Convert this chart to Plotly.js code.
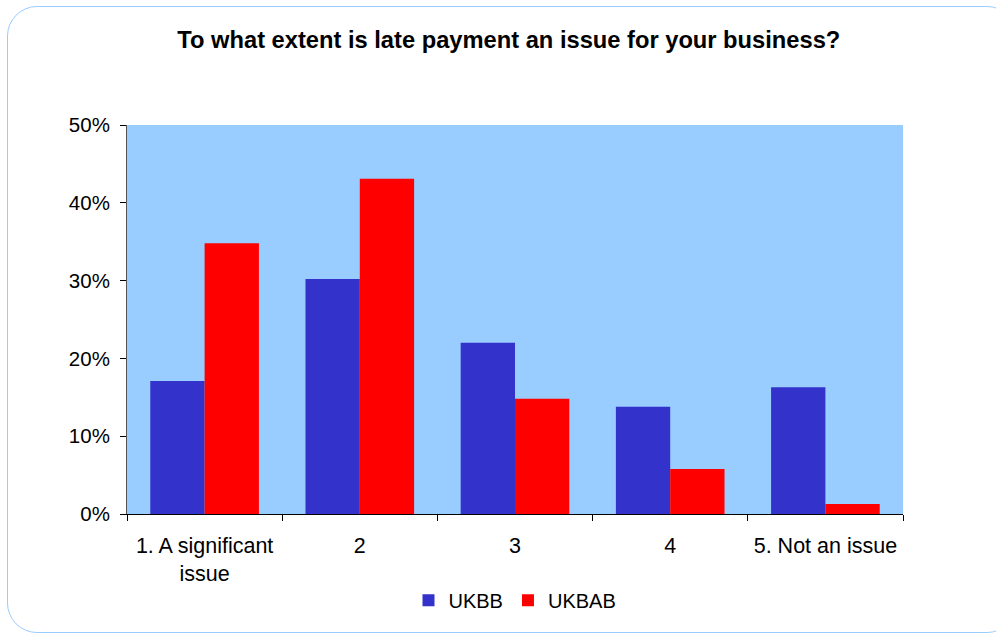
<!DOCTYPE html>
<html>
<head>
<meta charset="utf-8">
<script src="https://cdn.plot.ly/plotly-3.0.1.min.js"></script>
<style>
  html, body { margin: 0; padding: 0; background: #ffffff; overflow: hidden; }
  #wrap { position: relative; width: 996px; height: 634px; }
  #frame { position: absolute; left: 7px; top: 6px; width: 1010px; height: 627px;
           border: 1px solid #99ccff; border-radius: 30px; box-sizing: border-box; }
  #chart { position: absolute; left: 0; top: 0; width: 996px; height: 634px; }
</style>
</head>
<body>
<div id="wrap">
  <div id="frame"></div>
  <div id="chart"></div>
</div>
<script>
const categories = ["1. A significant<br>issue", "2", "3", "4", "5. Not an issue"];
const ukbb = [0.171, 0.302, 0.220, 0.138, 0.163];
const ukbab = [0.348, 0.431, 0.148, 0.058, 0.013];
const yTicks = [0, 0.1, 0.2, 0.3, 0.4, 0.5];

const font = "Arial, 'Liberation Sans', sans-serif";

const data = [
  { type: "bar", name: "UKBB", x: categories, y: ukbb, marker: { color: "#3333CC" }, hoverinfo: "skip" },
  { type: "bar", name: "UKBAB", x: categories, y: ukbab, marker: { color: "#FF0000" }, hoverinfo: "skip" }
];

const layout = {
  width: 996, height: 634,
  paper_bgcolor: "rgba(0,0,0,0)",
  plot_bgcolor: "#99CCFF",
  margin: { l: 127, r: 93, t: 125, b: 120 },
  barmode: "group",
  bargap: 0.30,
  bargroupgap: 0,
  font: { family: font, size: 20, color: "#000000" },
  title: {
    text: "<b>To what extent is late payment an issue for your business?</b>",
    font: { family: font, size: 23.7, color: "#000000" },
    x: 0.492, xanchor: "center", xref: "paper",
    y: 1 - 40 / 634, yanchor: "middle", yref: "container"
  },
  xaxis: {
    type: "category",
    tickson: "boundaries",
    ticks: "outside", ticklen: 6, tickcolor: "#000000", tickwidth: 1,
    ticklabelstandoff: 12,
    showline: true, linecolor: "#000000", linewidth: 1,
    showgrid: false, zeroline: false,
    tickfont: { family: font, size: 21.5, color: "#000000" },
    fixedrange: true
  },
  yaxis: {
    range: [0, 0.5],
    tickvals: yTicks,
    tickformat: ".0%",
    ticks: "outside", ticklen: 6, tickcolor: "#000000", tickwidth: 1,
    ticklabelstandoff: 6,
    showline: true, linecolor: "#555555", linewidth: 1,
    showgrid: false, zeroline: false,
    tickfont: { family: font, size: 20.5, color: "#000000" },
    fixedrange: true
  },
  showlegend: true,
  legend: {
    orientation: "h",
    x: 0.5, xanchor: "center",
    y: -0.222, yanchor: "middle",
    font: { family: font, size: 20, color: "#000000" },
    itemwidth: 30,
    traceorder: "normal",
    bgcolor: "rgba(0,0,0,0)"
  }
};

Plotly.newPlot("chart", data, layout, { staticPlot: true, displayModeBar: false });
</script>
</body>
</html>
